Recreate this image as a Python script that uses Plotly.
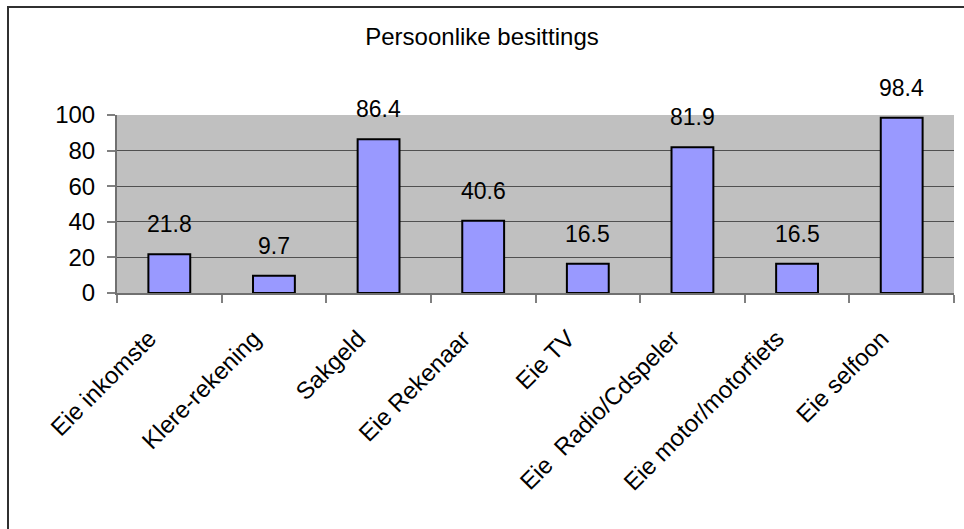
import plotly.graph_objects as go

categories = ["Eie inkomste", "Klere-rekening", "Sakgeld", "Eie Rekenaar", "Eie TV",
              "Eie  Radio/Cdspeler", "Eie motor/motorfiets", "Eie selfoon"]
values = [21.8, 9.7, 86.4, 40.6, 16.5, 81.9, 16.5, 98.4]
y_ticks = [0, 20, 40, 60, 80, 100]

FONT = "Liberation Sans, Arial, sans-serif"

L, R, T, B = 117, 10, 115, 236
W, H = 964, 529
pw, ph = W - L - R, H - T - B

fig = go.Figure()
fig.add_trace(go.Bar(
    x=categories, y=values,
    marker=dict(color="#9999FF", line=dict(color="black", width=2)),
    hoverinfo="x+y",
))

for c, v in zip(categories, values):
    fig.add_annotation(x=c, y=v, text=f"{v:.1f}", showarrow=False,
                       yshift=30, yanchor="middle",
                       font=dict(family=FONT, size=23, color="black"))

fig.update_layout(
    width=W, height=H,
    margin=dict(l=L, r=R, t=T, b=B),
    paper_bgcolor="white", plot_bgcolor="#C0C0C0",
    bargap=0.6, showlegend=False,
    title=dict(text="Persoonlike besittings", x=0.5, xanchor="center",
               y=1 - 37 / H, yanchor="middle",
               font=dict(family=FONT, size=24, color="black")),
    font=dict(family=FONT, color="black"),
)
fig.update_xaxes(
    type="category", tickangle=-45, tickson="boundaries", automargin=False,
    ticks="outside", ticklen=8, tickcolor="#808080", tickwidth=2,
    ticklabelstandoff=20, ticklabelshift=-20,
    showline=True, linecolor="#707070", linewidth=2,
    showgrid=False, tickfont=dict(family=FONT, size=24, color="black"),
)
fig.update_yaxes(
    range=[0, 100], tickvals=y_ticks, ticks="outside", ticklen=8, automargin=False,
    tickcolor="#808080", tickwidth=2, ticklabelstandoff=7,
    showline=True, linecolor="#707070", linewidth=2,
    showgrid=True, gridcolor="#505050", gridwidth=1, zeroline=False,
    tickfont=dict(family=FONT, size=24, color="black"),
)
# outer chart border (extends past right and bottom edges of the image)
fig.add_shape(type="rect", xref="paper", yref="paper",
              x0=(8 - L) / pw, x1=(975 - L) / pw,
              y0=(H - B - 545) / ph, y1=(H - B - 7) / ph,
              line=dict(color="#303030", width=2), fillcolor="rgba(0,0,0,0)",
              layer="below")

fig.write_html("out.html", config={"displayModeBar": False},
               post_script="document.body.style.margin='0';document.body.style.overflow='hidden';")
